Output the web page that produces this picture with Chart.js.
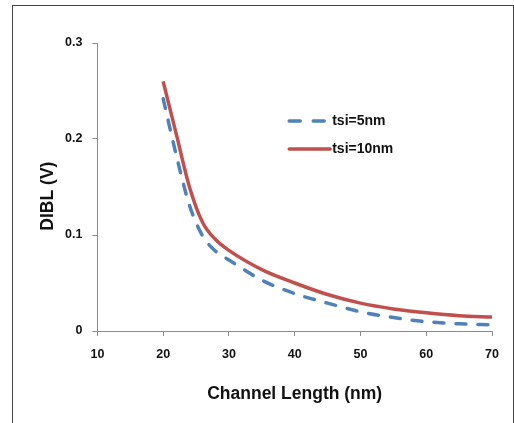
<!DOCTYPE html>
<html>
<head>
<meta charset="utf-8">
<script src="https://cdn.jsdelivr.net/npm/chart.js@4/dist/chart.umd.min.js"></script>
<style>
  html, body { margin: 0; padding: 0; background: #fff; }
  #wrap { position: relative; width: 514px; height: 423px; overflow: hidden; }
  #frame { position: absolute; left: 12px; top: 5px; width: 500px; height: 440px;
           border-left: 1px solid #444; border-top: 1px solid #444; border-right: 1px solid #444; }
  canvas { position: absolute; left: 0; top: 0; }
</style>
</head>
<body>
<div id="wrap">
  <div id="frame"></div>
  <canvas id="c" width="514" height="423"></canvas>
</div>
<script>
const channelLength = [20, 22, 24, 26, 28, 30, 35, 40, 45, 50, 55, 60, 65, 70];
const dibl5nm  = [0.242, 0.183, 0.131, 0.099, 0.083, 0.074, 0.053, 0.039, 0.029, 0.020, 0.014, 0.0097, 0.0075, 0.0063];
const dibl10nm = [0.260, 0.205, 0.150, 0.113, 0.095, 0.084, 0.064, 0.050, 0.038, 0.029, 0.023, 0.019, 0.016, 0.0145];
const seriesNames = ['tsi=5nm', 'tsi=10nm'];
const xTicks = [10, 20, 30, 40, 50, 60, 70];
const yTicks = [0, 0.1, 0.2, 0.3];
const xTitle = 'Channel Length (nm)';
const yTitle = 'DIBL (V)';

const FONT = '"Liberation Sans", Arial, sans-serif';
const AXIS = '#8c8c8c';

const toPts = (ys) => channelLength.map((x, i) => ({x, y: ys[i]}));

const extrasPlugin = {
  id: 'extras',
  afterDatasetsDraw(chart) {
    const ctx = chart.ctx;
    const xs = chart.scales.x, ys = chart.scales.y;
    // legend inside the plot
    const lx0 = xs.getPixelForValue(39.17), lx1 = xs.getPixelForValue(44.79);
    const tx = xs.getPixelForValue(45.7);
    const rows = [ys.getPixelForValue(0.2188), ys.getPixelForValue(0.1896)];
    chart.data.datasets.forEach((ds, i) => {
      ctx.save();
      ctx.strokeStyle = ds.borderColor;
      ctx.lineWidth = ds.borderWidth;
      ctx.lineCap = 'round';
      ctx.setLineDash(ds.borderDash ? [11, 13] : []);
      ctx.beginPath();
      ctx.moveTo(lx0, rows[i]);
      ctx.lineTo(i === 0 ? lx1 : tx - 2, rows[i]);
      ctx.stroke();
      ctx.setLineDash([]);
      ctx.fillStyle = '#111';
      ctx.font = 'bold 14px ' + FONT;
      ctx.textBaseline = 'middle';
      ctx.fillText(ds.label, tx, rows[i] + 0.5);
      ctx.restore();
    });
    // y axis title (placed as in the reference, slightly below axis centre)
    ctx.save();
    ctx.translate(48, ys.getPixelForValue(0.1405));
    ctx.rotate(-Math.PI / 2);
    ctx.fillStyle = '#111';
    ctx.font = 'bold 17.5px ' + FONT;
    ctx.textAlign = 'center';
    ctx.textBaseline = 'middle';
    ctx.fillText(yTitle, 0, 0);
    ctx.restore();
  }
};

new Chart(document.getElementById('c'), {
  type: 'line',
  data: {
    datasets: [
      { label: seriesNames[0], data: toPts(dibl5nm), borderColor: '#4F81BD', borderWidth: 3.5,
        borderDash: [10, 12], borderCapStyle: 'round', pointRadius: 0,
        cubicInterpolationMode: 'monotone', fill: false },
      { label: seriesNames[1], data: toPts(dibl10nm), borderColor: '#C0504D', borderWidth: 3.5,
        pointRadius: 0, cubicInterpolationMode: 'monotone', fill: false }
    ]
  },
  options: {
    responsive: false,
    animation: false,
    layout: { padding: { left: 55, right: 22, top: 43, bottom: 18 } },
    plugins: { legend: { display: false }, tooltip: { enabled: false } },
    scales: {
      x: {
        type: 'linear', min: 10, max: 70,
        afterBuildTicks: (s) => { s.ticks = xTicks.map(v => ({value: v})); },
        grid: { drawOnChartArea: false, drawTicks: true, tickLength: 5, color: AXIS, tickColor: AXIS },
        border: { display: true, color: AXIS, width: 1 },
        ticks: { color: '#111', font: { family: FONT, size: 12.5, weight: 'bold' }, padding: 11, maxRotation: 0 },
        title: { display: true, text: xTitle, color: '#111',
                 font: { family: FONT, size: 17.5, weight: 'bold' }, padding: { top: 11, bottom: 0 } }
      },
      y: {
        type: 'linear', min: 0, max: 0.3,
        afterBuildTicks: (s) => { s.ticks = yTicks.map(v => ({value: v})); },
        grid: { drawOnChartArea: false, drawTicks: true, tickLength: 5, color: AXIS, tickColor: AXIS },
        border: { display: true, color: AXIS, width: 1 },
        ticks: { color: '#111', font: { family: FONT, size: 12.5, weight: 'bold' }, padding: 10,
                 callback: (v) => String(v) },
        title: { display: false }
      }
    }
  },
  plugins: [extrasPlugin]
});
</script>
</body>
</html>
